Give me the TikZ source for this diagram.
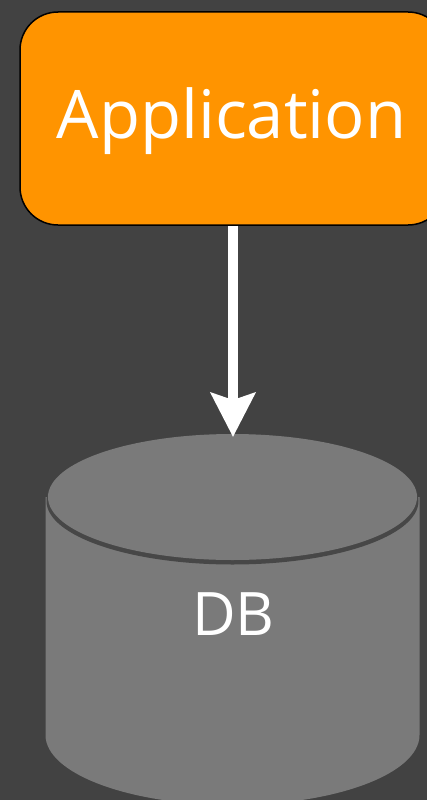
\documentclass[tikz,border=0pt]{standalone}
\usepackage{fontspec}
\setmainfont{Open Sans}
\usetikzlibrary{arrows.meta}
\definecolor{bgdark}{HTML}{424242}
\definecolor{apporange}{HTML}{FF9400}
\definecolor{dbgray}{HTML}{7A7A7A}
\definecolor{dbrim}{HTML}{474747}
\tikzset{
  appbox/.style={draw=black, line width=1.5pt, fill=apporange, rounded corners=38pt,
    minimum width=426pt, minimum height=213pt, inner sep=0pt},
  bigtext/.style={text=white, anchor=base, inner sep=0pt},
  flow/.style={draw=white, line width=10pt, -{Stealth[length=44pt, width=44pt, inset=7pt]}},
}
\begin{document}
\begin{tikzpicture}[x=1pt, y=-1pt]
  % canvas
  \fill[bgdark] (0,0) rectangle (427,800);
  \useasboundingbox (0,0) rectangle (427,800);

  % application box
  \node[appbox] (app) at (233,118.5) {};
  \node[bigtext, font=\fontsize{67}{67}\selectfont] (applabel) at (231.5,138) {Application};

  % database cylinder: body, rim shadow, top face
  \fill[dbgray] (45.5,497) -- (45.5,735) arc[start angle=180, end angle=0, x radius=187, y radius=70]
    -- (419.5,497) -- cycle;
  \fill[dbrim] (232.5,501) ellipse[x radius=186, y radius=63.5];
  \fill[dbgray] (232.5,497) ellipse[x radius=184.5, y radius=63];
  \coordinate (dbtop) at (233,437);
  \node[bigtext, font=\fontsize{60}{60}\selectfont] (dblabel) at (233.5,635) {DB};

  % request arrow
  \draw[flow] (app.south) -- (dbtop);
\end{tikzpicture}
\end{document}
